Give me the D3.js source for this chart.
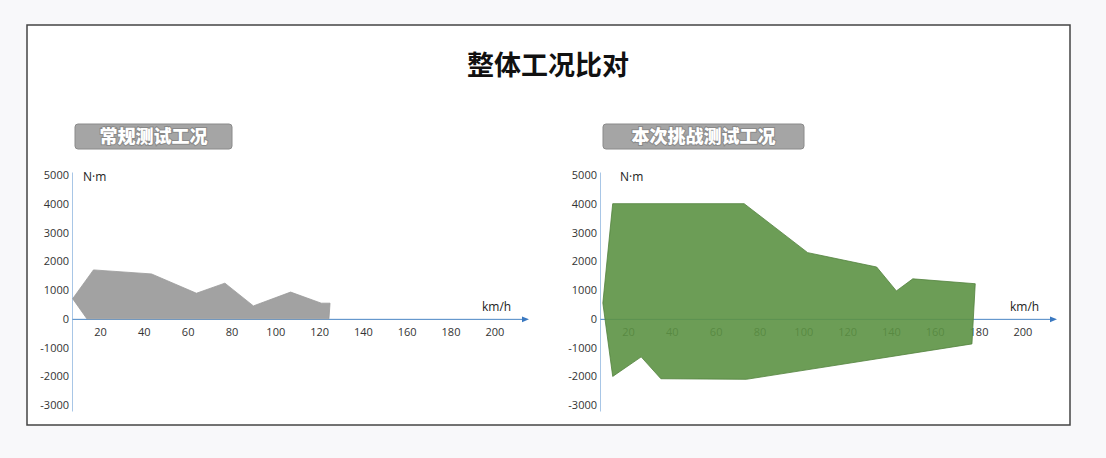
<!DOCTYPE html>
<html lang="zh">
<head>
<meta charset="utf-8">
<title>整体工况比对</title>
<script src="https://cdn.jsdelivr.net/npm/d3@7"></script>
<style>
  html, body { margin: 0; padding: 0; background: #f8f8fa; }
  svg { display: block; }
  .tick text { font-family: "Open Sans", "DejaVu Sans", sans-serif; font-size: 11px; fill: #333; }
</style>
</head>
<body>
<div id="chart"></div>
<script>
// speed ticks (km/h) and torque ticks (N·m)
var xTicks = [20, 40, 60, 80, 100, 120, 140, 160, 180, 200];
var yTicks = [-3000, -2000, -1000, 0, 1000, 2000, 3000, 4000, 5000];

// 常规测试工况 : upper and lower outline, [km/h, N·m]
var normalTop = [[7.5, 700], [17, 1700], [43.5, 1560], [64, 890], [77, 1240],
                 [90, 450], [107, 930], [121, 545], [125, 545]];
var normalBottom = [[7.5, 700], [14, 0], [124.5, 0]];

// 本次挑战测试工况
var challengeTop = [[8.5, 550], [13, 4000], [73, 4000], [102, 2300], [133.5, 1800],
                    [142.5, 970], [150, 1390], [178.5, 1220]];
var challengeBottom = [[8.5, 550], [13, -2000], [26, -1320], [35, -2080],
                       [74, -2100], [177, -870]];

var W = 1106, H = 458;

var svg = d3.select("#chart")
  .append("svg")
    .attr("width", W)
    .attr("height", H);

// frame
svg.append("rect")
    .attr("x", 27).attr("y", 25)
    .attr("width", 1043).attr("height", 400)
    .attr("fill", "#fff")
    .attr("stroke", "#444")
    .attr("stroke-width", 1.5);

svg.append("text")
    .attr("x", 548).attr("y", 75)
    .attr("text-anchor", "middle")
    .style("font-family", "'Noto Sans CJK SC', sans-serif")
    .style("font-weight", "bold")
    .style("font-size", "27px")
    .attr("fill", "#111")
    .text("整体工况比对");

// arrow head for the speed axis
svg.append("defs").append("marker")
    .attr("id", "arrow")
    .attr("viewBox", "0 0 10 10")
    .attr("refX", 5).attr("refY", 5)
    .attr("markerWidth", 7).attr("markerHeight", 7)
    .attr("markerUnits", "userSpaceOnUse")
    .attr("orient", "auto")
  .append("path")
    .attr("d", "M0,1L10,5L0,9Z")
    .attr("fill", "#3a78c0");

var panels = [
  {left: 72, title: "常规测试工况", boxW: 157, unitDx: 11,
   top: normalTop, bottom: normalBottom, fill: "#a2a2a2", opacity: 1, edge: "#999"},
  {left: 600, title: "本次挑战测试工况", boxW: 201, unitDx: 20,
   top: challengeTop, bottom: challengeBottom, fill: "#5c9244", opacity: 0.9, edge: "#52823c"}
];

panels.forEach(function(p) {
  var g = svg.append("g").attr("transform", "translate(" + p.left + ",0)");

  var x = d3.scaleLinear().domain([7.2, 214]).range([0, 453]);
  var y = d3.scaleLinear().domain([-3200, 5100]).range([411, 172]);

  // subtitle box
  g.append("rect")
      .attr("x", 3).attr("y", 124)
      .attr("width", p.boxW).attr("height", 25)
      .attr("rx", 3)
      .attr("fill", "#a5a5a5")
      .attr("stroke", "#8a8a8a");
  g.append("text")
      .attr("x", 3 + p.boxW / 2).attr("y", 143)
      .attr("text-anchor", "middle")
      .style("font-family", "'Noto Sans CJK SC', sans-serif")
      .style("font-weight", "900")
      .style("font-size", "18px")
      .style("paint-order", "stroke")
      .attr("fill", "#fff")
      .attr("stroke", "#8a8a8a")
      .attr("stroke-width", 2)
      .text(p.title);

  // y axis
  var ya = g.append("g")
      .call(d3.axisLeft(y).tickValues(yTicks).tickSize(0).tickPadding(3)
        .tickFormat(function(d) { return String(d); }));
  ya.select(".domain").attr("stroke", "#a8c6e6");

  // x axis
  var xa = g.append("g")
      .attr("transform", "translate(0," + y(0) + ")")
      .call(d3.axisBottom(x).tickValues(xTicks).tickSize(0).tickPadding(9));
  xa.select(".domain")
      .attr("stroke", "#4a86c5")
      .attr("marker-end", "url(#arrow)");

  // unit labels
  g.append("text")
      .attr("x", p.unitDx).attr("y", 181)
      .style("font-family", "'Open Sans', sans-serif")
      .style("font-size", "12px")
      .attr("fill", "#222")
      .text("N·m");
  g.append("text")
      .attr("x", 410).attr("y", 311)
      .style("font-family", "'Open Sans', sans-serif")
      .style("font-size", "12px")
      .attr("fill", "#222")
      .text("km/h");

  // operating envelope
  var outline = p.top.concat(p.bottom.slice().reverse());
  var line = d3.line()
      .x(function(d) { return x(d[0]); })
      .y(function(d) { return y(d[1]); });
  g.append("path")
      .attr("d", line(outline) + "Z")
      .attr("fill", p.fill)
      .attr("fill-opacity", p.opacity)
      .attr("stroke", p.edge)
      .attr("stroke-width", 0.8);
});
</script>
</body>
</html>
